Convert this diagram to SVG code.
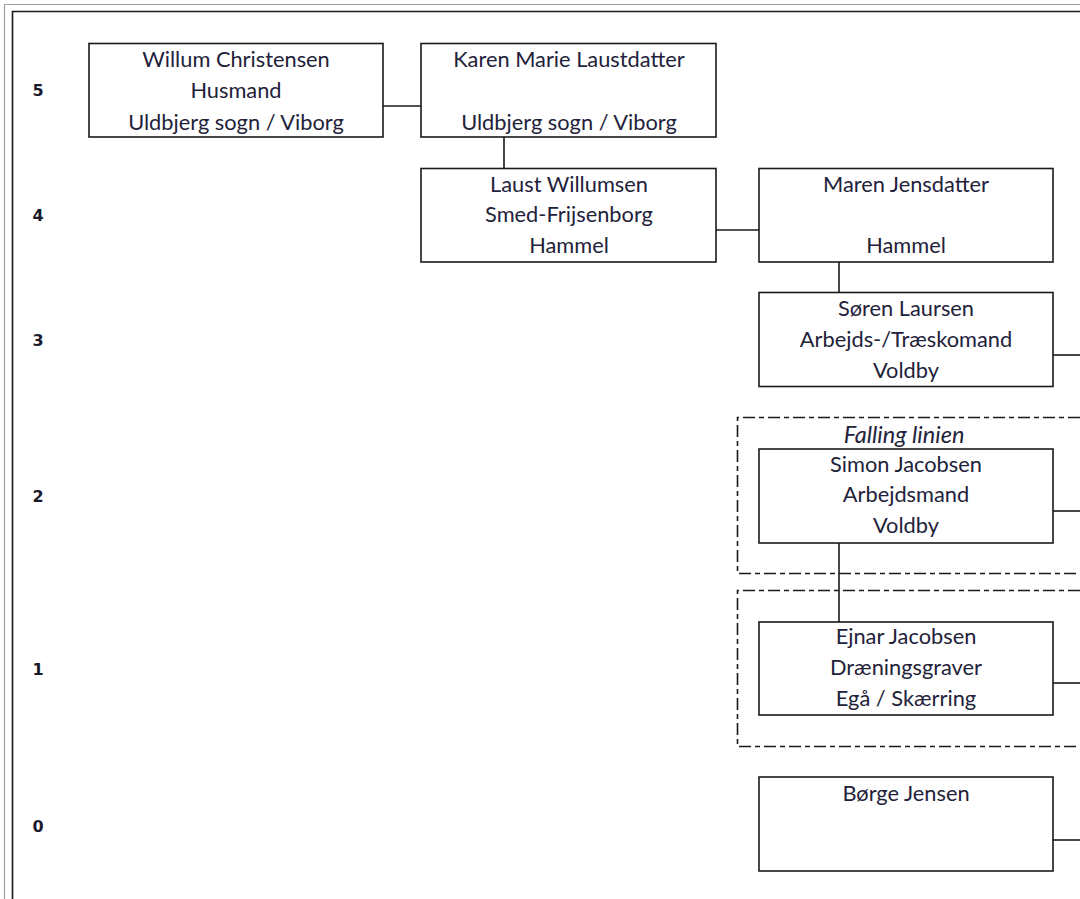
<svg xmlns="http://www.w3.org/2000/svg" width="1080" height="899" viewBox="0 0 1080 899">
<style>
.box{fill:#fff;stroke:#1a1a1a;stroke-width:1.6}
.t{font-family:Lato,"Open Sans",sans-serif;font-size:21.8px;fill:#22223a;text-anchor:middle}
.it{font-style:italic;font-size:23.5px}
.n{font-family:"DejaVu Sans",Verdana,sans-serif;font-weight:bold;font-size:16px;fill:#1a1a2a;text-anchor:middle}
.c{stroke:#1a1a1a;stroke-width:1.6;fill:none}
.d{stroke:#1a1a1a;stroke-width:1.6;fill:none;stroke-dasharray:12,4,5,4}
</style>
<rect x="0" y="0" width="1080" height="899" fill="#fff"/>
<path d="M4.5 899 V4.5 H1080" stroke="#a0a0a0" stroke-width="1.2" fill="none"/>
<path d="M12.5 899 V11.5 H1080" stroke="#1a1a1a" stroke-width="1.6" fill="none"/>
<g id="levels">
<text class="n" x="38" y="96">5</text>
<text class="n" x="38" y="221">4</text>
<text class="n" x="38" y="346">3</text>
<text class="n" x="38" y="502">2</text>
<text class="n" x="38" y="675">1</text>
<text class="n" x="38" y="832">0</text>
</g>
<g id="groups">
<path class="d" d="M1080 417.5 H737.5 V573.5 H1080"/>
<path class="d" d="M1080 590.5 H737.5 V746.5 H1080"/>
<text class="t it" x="904" y="443">Falling linien</text>
</g>
<g id="connectors">
<line class="c" x1="383" y1="106" x2="421" y2="106"/>
<line class="c" x1="504" y1="137" x2="504" y2="168"/>
<line class="c" x1="716" y1="230" x2="759" y2="230"/>
<line class="c" x1="839" y1="262" x2="839" y2="292"/>
<line class="c" x1="1053" y1="355" x2="1080" y2="355"/>
<line class="c" x1="1053" y1="511" x2="1080" y2="511"/>
<line class="c" x1="839" y1="543" x2="839" y2="622"/>
<line class="c" x1="1053" y1="683" x2="1080" y2="683"/>
<line class="c" x1="1053" y1="840" x2="1080" y2="840"/>
</g>
<g id="willum">
<rect class="box" x="89" y="43.5" width="294" height="93.5"/>
<text class="t" x="236" y="67">Willum Christensen</text>
<text class="t" x="236" y="98">Husmand</text>
<text class="t" x="236" y="130">Uldbjerg sogn / Viborg</text>
</g>
<g id="karen">
<rect class="box" x="421" y="43.5" width="295" height="93.5"/>
<text class="t" x="569" y="67">Karen Marie Laustdatter</text>
<text class="t" x="569" y="130">Uldbjerg sogn / Viborg</text>
</g>
<g id="laust">
<rect class="box" x="421" y="168.5" width="295" height="93.5"/>
<text class="t" x="569" y="192">Laust Willumsen</text>
<text class="t" x="569" y="222">Smed-Frijsenborg</text>
<text class="t" x="569" y="253">Hammel</text>
</g>
<g id="maren">
<rect class="box" x="759" y="168.5" width="294" height="93.5"/>
<text class="t" x="906" y="192">Maren Jensdatter</text>
<text class="t" x="906" y="253">Hammel</text>
</g>
<g id="soren">
<rect class="box" x="759" y="292.5" width="294" height="94"/>
<text class="t" x="906" y="316">Søren Laursen</text>
<text class="t" x="906" y="347">Arbejds-/Træskomand</text>
<text class="t" x="906" y="378">Voldby</text>
</g>
<g id="simon">
<rect class="box" x="759" y="449" width="294" height="94"/>
<text class="t" x="906" y="472">Simon Jacobsen</text>
<text class="t" x="906" y="502">Arbejdsmand</text>
<text class="t" x="906" y="533">Voldby</text>
</g>
<g id="ejnar">
<rect class="box" x="759" y="622" width="294" height="93"/>
<text class="t" x="906" y="644">Ejnar Jacobsen</text>
<text class="t" x="906" y="675">Dræningsgraver</text>
<text class="t" x="906" y="706">Egå / Skærring</text>
</g>
<g id="borge">
<rect class="box" x="759" y="777" width="294" height="94"/>
<text class="t" x="906" y="801">Børge Jensen</text>
</g>
</svg>
